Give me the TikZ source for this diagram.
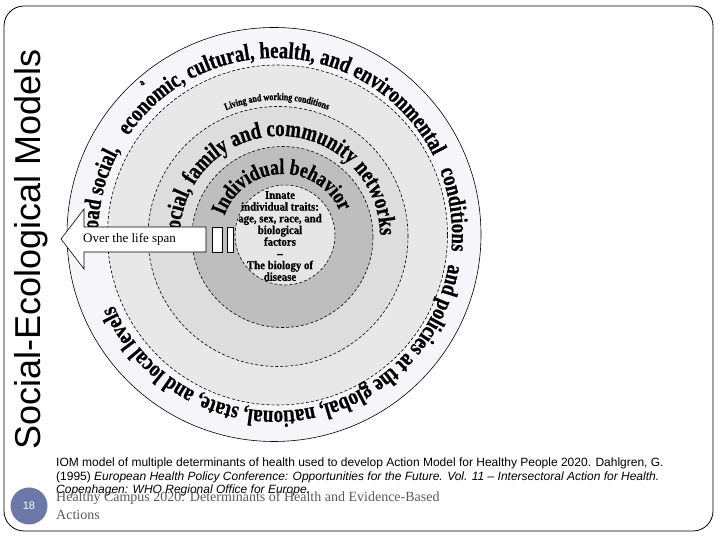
\documentclass[tikz,border=0pt]{standalone}
\usepackage{fontspec}
\setmainfont{Liberation Serif}
\newfontfamily\ringfont[FakeStretch=0.8,FakeBold=0.8]{Liberation Serif}
\newfontfamily\corefont[FakeStretch=0.9,FakeBold=0.6]{Liberation Serif}
\newfontfamily\sansfnt{Liberation Sans}
\usetikzlibrary{decorations.text}
\definecolor{ringA}{HTML}{F6F6FA}
\definecolor{ringB}{HTML}{E8E8E8}
\definecolor{ringC}{HTML}{DDDDDD}
\definecolor{ringD}{HTML}{BEBEBE}
\definecolor{ringE}{HTML}{E6E6E6}
\definecolor{pagecol}{HTML}{6C79A8}
\definecolor{footgray}{HTML}{5A5A5A}
\tikzset{
  dashring/.style={dash pattern=on 3pt off 2pt, line width=0.6pt},
  outertxt/.style={decorate, decoration={text along path, text align=left,
     text={|\ringfont\bfseries\fontsize{23.5}{23.5}\selectfont|#1}}},
  midtxt/.style={decorate, decoration={text along path, text align=left,
     text={|\ringfont\bfseries\fontsize{23.5}{23.5}\selectfont|#1}}},
  smalltxt/.style={decorate, decoration={text along path, text align=left,
     text={|\ringfont\bfseries\fontsize{10}{10}\selectfont|#1}}},
  indtxt/.style={decorate, decoration={text along path, text align=left,
     text={|\ringfont\bfseries\fontsize{22}{22}\selectfont|#1}}},
}
\begin{document}
\begin{tikzpicture}[x=1pt,y=1pt]
\useasboundingbox (0,0) rectangle (720,540);
% frame
\draw[line width=0.8pt, rounded corners=20pt] (4,9) rectangle (713,534);
% rings
\draw[fill=ringA, line width=0.6pt] (274,305.5) circle[radius=207];
\fill[ringB] (277.5,305) circle[radius=170];
\fill[ringC] (278,303.5) circle[radius=130];
\fill[ringD] (282.5,303) circle[radius=90.5];
\fill[ringE] (285,305) circle[radius=50];
\draw[dashring] (277.5,305) circle[radius=170];
\draw[dashring] (278,303.5) circle[radius=130];
\draw[dashring] (282.5,303) circle[radius=90.5];
\draw[dashring] (285,305) circle[radius=50];
% outer ring text
\path[outertxt={Broad social,}] (275,305) ++(185:177) arc[start angle=185, end angle=130, radius=177];
\path[outertxt={economic, cultural, health, and environmental}] (275,305) ++(146:177) arc[start angle=146, end angle=0, radius=177];
\path[outertxt={conditions}] (275,305) ++(21.5:177) arc[start angle=21.5, end angle=-20, radius=177];
\path[outertxt={and policies at the global, national, state, and local levels}] (275,305) ++(-9.5:176) arc[start angle=-9.5, end angle=-200, radius=176];
\node[font=\ringfont\bfseries\fontsize{10}{10}\selectfont, rotate=35, inner sep=0] (glitch) at (142,457) {a};
% living and working conditions
\path[smalltxt={Living and working conditions}] (277.5,305) ++(112.5:135) arc[start angle=112.5, end angle=50, radius=135];
% social, family and community networks
\path[midtxt={Social, family and community networks}] (280,304) ++(182.5:100) arc[start angle=182.5, end angle=-20, radius=100];
% individual behavior
\path[indtxt={Individual behavior}] (283,304) ++(161:62) arc[start angle=161, end angle=0, radius=62];
% core text
\node[align=center, font=\corefont\bfseries\fontsize{12}{11.7}\selectfont, inner sep=0] (core) at (280,304)
  {Innate\\individual traits:\\age, sex, race, and\\biological\\factors\\–\\The biology of\\disease};
% arrow
\draw[fill=white, line width=0.6pt] (61,301) -- (84,331) -- (84,313) -- (206,313) -- (206,288) -- (84,288) -- (84,271) -- cycle;
\draw[fill=white, line width=0.6pt] (212,288) rectangle (222,313);
\draw[fill=white, line width=0.6pt] (227,288) rectangle (233,313);
\node[anchor=west, font=\fontsize{13}{13}\selectfont, inner sep=0] (span) at (83,300.5) {Over the life span};
% title
\node[rotate=90, anchor=base, font=\sansfnt\fontsize{36}{36}\selectfont, inner sep=0] (title) at (40,291) {Social-Ecological Models};
% citation
\node[anchor=base west, font=\sansfnt\fontsize{12}{12}\selectfont, inner sep=0] (cit1) at (56,73)
  {IOM model of multiple determinants of health used to develop Action Model for Healthy People 2020. Dahlgren, G.};
\node[anchor=base west, font=\sansfnt\fontsize{12}{12}\selectfont, inner sep=0] (cit2) at (56,59)
  {(1995) \textit{European Health Policy Conference: Opportunities for the Future. Vol. 11 – Intersectoral Action for Health.}};
\node[anchor=base west, font=\sansfnt\fontsize{12}{12}\selectfont, inner sep=0] (cit3) at (56,46)
  {\textit{Copenhagen: WHO Regional Office for Europe.}};
% footer
\node[anchor=base west, font=\fontsize{14}{14}\selectfont, text=footgray, inner sep=0] (foot1) at (56,38)
  {Healthy Campus 2020: Determinants of Health and Evidence-Based};
\node[anchor=base west, font=\fontsize{14}{14}\selectfont, text=footgray, inner sep=0] (foot2) at (56,20) {Actions};
\node[circle, fill=pagecol, minimum size=37pt, inner sep=0, text=white, font=\sansfnt\fontsize{11}{11}\selectfont] (page) at (29,34) {18};
\end{tikzpicture}
\end{document}
